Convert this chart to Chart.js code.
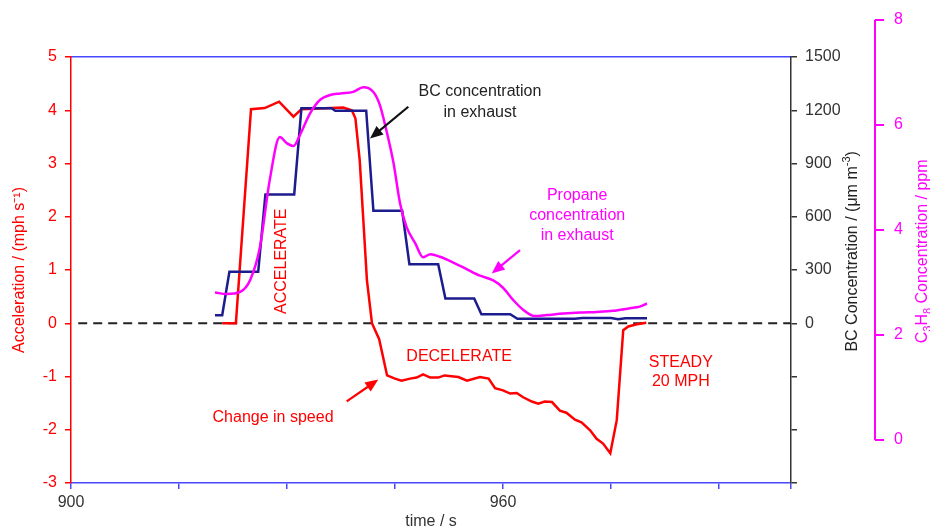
<!DOCTYPE html>
<html>
<head>
<meta charset="utf-8">
<script src="https://cdn.jsdelivr.net/npm/chart.js@4.4.1/dist/chart.umd.min.js"></script>
<style>
html,body{margin:0;padding:0;background:#ffffff;}
canvas{display:block;}
</style>
</head>
<body>
<canvas id="c" width="930" height="531"></canvas>
<script>
// ---------- data ----------
const timeLabelled = [900, 960];

const accelTime = [921, 922.9, 925.0, 926.9, 928.9, 930.9, 932.0, 937.8, 939.0, 939.5, 940.1, 940.6, 941.1, 941.8, 942.8, 943.9,
  945.0, 945.9, 947.1, 948.0, 948.9, 949.9, 951.0, 951.9, 953.8, 955.0, 956.8, 958.0, 958.9, 960.0, 961.0, 961.9, 962.8,
  964.0, 964.9, 965.8, 966.8, 967.9, 968.8, 970.0, 970.9, 972.1, 973.0, 973.9, 974.9, 975.8, 976.7, 977.4, 978.6, 979.9];
const accelValues = [0, 0, 4.02, 4.04, 4.16, 3.88, 4.02, 4.05, 4.0, 3.85, 3.06, 1.94, 0.81, 0, -0.3, -0.98,
  -1.04, -1.08, -1.04, -1.02, -0.96, -1.02, -1.02, -0.98, -1.01, -1.08, -1.01, -1.04, -1.22, -1.26, -1.32, -1.31, -1.39,
  -1.47, -1.51, -1.47, -1.48, -1.64, -1.68, -1.81, -1.86, -2.01, -2.17, -2.26, -2.44, -1.82, -0.13, -0.06, -0.02, 0.01];

const bcTime = [920, 921, 922, 926, 927, 931, 932, 936.2, 936.7, 941, 942, 946, 947, 951, 952, 956, 957, 961, 962,
  970, 971, 975, 976, 977, 980];
const bcValues = [45, 45, 290, 290, 726, 726, 1211, 1211, 1197, 1197, 634, 634, 333, 333, 139, 139, 51, 51, 25,
  25, 30, 30, 22, 28, 28];

const propaneTime = [920.0, 921.6, 923.5, 924.9, 926.25, 927.6, 929.0, 930.0, 930.9, 931.8, 933.2, 934.6, 936.0, 937.4,
  939.2, 940.6, 942.0, 942.9, 943.8, 944.8, 945.7, 946.6, 947.8, 948.9, 949.9, 951.25, 953.1, 955.0, 956.8, 958.65,
  960.0, 961.4, 962.8, 964.4, 966.1, 968.4, 970.7, 973.0, 975.3, 977.6, 979.0, 980.0];
const propaneValues = [2.81, 2.78, 2.82, 3.05, 3.68, 4.95, 5.77, 5.65, 5.6, 5.81, 6.22, 6.48, 6.57, 6.6,
  6.63, 6.72, 6.63, 6.38, 5.9, 5.27, 4.51, 4.06, 3.75, 3.48, 3.54, 3.49, 3.38, 3.25, 3.13, 3.04,
  2.9, 2.67, 2.48, 2.36, 2.38, 2.41, 2.43, 2.44, 2.46, 2.51, 2.54, 2.6];

const zeroTime = [901, 1000];
const zeroValues = [0, 0];

const propaneTicks = [0, 2, 4, 6, 8];

// ---------- styles ----------
const FONT = '"Liberation Sans", Arial, Helvetica, sans-serif';
const RED = '#ff0000';
const MAG = '#ff00ff';
const NAVY = '#1c1c8e';
const FRAME = '#4848ff';
const DARK = '#333333';

Chart.defaults.font.family = FONT;
Chart.defaults.font.size = 16;

const pts = (xs, ys) => xs.map((x, i) => ({x: x, y: ys[i]}));

// annotation positions in data units (time, acceleration)
const notes = [
  {lines: ['BC concentration', 'in exhaust'], t: 956.8, a: 4.154, color: '#222222', gap: 20.6},
  {lines: ['Propane', 'concentration', 'in exhaust'], t: 970.3, a: 2.02, color: MAG, gap: 20},
  {lines: ['DECELERATE'], t: 953.9, a: -0.633, color: RED, gap: 20},
  {lines: ['Change in speed'], t: 928.06, a: -1.767, color: RED, gap: 20},
  {lines: ['STEADY', '20 MPH'], t: 984.7, a: -0.92, color: RED, gap: 18.5},
  {lines: ['ACCELERATE'], t: 929.3, a: 1.165, color: RED, gap: 20, rotate: true}
];
const arrows = [
  {t1: 946.85, a1: 4.066, t2: 941.53, a2: 3.47, color: '#111111'},
  {t1: 962.36, a1: 1.372, t2: 958.43, a2: 0.934, color: MAG},
  {t1: 938.29, a1: -1.466, t2: 942.68, a2: -1.058, color: RED}
];

function drawRich(ctx, pieces, cx, cy, color) {
  ctx.save();
  ctx.translate(cx, cy);
  ctx.rotate(-Math.PI / 2);
  ctx.fillStyle = color;
  ctx.textBaseline = 'middle';
  ctx.textAlign = 'left';
  let w = 0;
  pieces.forEach(p => { ctx.font = p.s + 'px ' + FONT; p.w = ctx.measureText(p.t).width; w += p.w; });
  let x = -w / 2;
  pieces.forEach(p => { ctx.font = p.s + 'px ' + FONT; ctx.fillText(p.t, x, p.dy || 0); x += p.w; });
  ctx.restore();
}

function drawArrow(ctx, x1, y1, x2, y2, color) {
  const ang = Math.atan2(y2 - y1, x2 - x1);
  const L = 13, H = 5.5;
  ctx.save();
  ctx.strokeStyle = color; ctx.fillStyle = color; ctx.lineWidth = 2.2;
  ctx.beginPath();
  ctx.moveTo(x1, y1);
  ctx.lineTo(x2 - Math.cos(ang) * L * 0.8, y2 - Math.sin(ang) * L * 0.8);
  ctx.stroke();
  ctx.beginPath();
  ctx.moveTo(x2, y2);
  ctx.lineTo(x2 - Math.cos(ang) * L - Math.sin(ang) * H, y2 - Math.sin(ang) * L + Math.cos(ang) * H);
  ctx.lineTo(x2 - Math.cos(ang) * L + Math.sin(ang) * H, y2 - Math.sin(ang) * L - Math.cos(ang) * H);
  ctx.closePath();
  ctx.fill();
  ctx.restore();
}

const overlay = {
  id: 'overlay',
  afterDraw(chart) {
    const {ctx, chartArea: ca, scales} = chart;
    const X = v => scales.x.getPixelForValue(v);
    const Y = v => scales.y.getPixelForValue(v);
    const P = v => scales.yP.getPixelForValue(v);
    ctx.save();

    // propane axis (its own extent 0..8)
    const ax = ca.right + 84;
    ctx.strokeStyle = MAG; ctx.lineWidth = 2;
    ctx.beginPath(); ctx.moveTo(ax, P(0)); ctx.lineTo(ax, P(8)); ctx.stroke();
    ctx.font = '16px ' + FONT; ctx.fillStyle = MAG; ctx.textAlign = 'left'; ctx.textBaseline = 'middle';
    propaneTicks.forEach(v => {
      const py = P(v);
      ctx.beginPath(); ctx.moveTo(ax, py); ctx.lineTo(ax + 9, py); ctx.stroke();
      ctx.fillText(String(v), ax + 19, py);
    });

    // right axis titles
    const ty = Y(1.35);
    drawRich(ctx, [{t: 'BC Concentration / (\u03bcm m', s: 16}, {t: '-3', s: 11, dy: -6}, {t: ')', s: 16}], ca.right + 62, ty, '#222222');
    drawRich(ctx, [{t: 'C', s: 16}, {t: '3', s: 11, dy: 5}, {t: 'H', s: 16}, {t: '8', s: 11, dy: 5}, {t: ' Concentration / ppm', s: 16}], ca.right + 132, ty, MAG);

    // annotations
    ctx.font = '16px ' + FONT; ctx.textAlign = 'center'; ctx.textBaseline = 'middle';
    notes.forEach(n => {
      const cx = X(n.t), cy = Y(n.a);
      ctx.fillStyle = n.color;
      if (n.rotate) {
        ctx.save(); ctx.translate(cx, cy); ctx.rotate(-Math.PI / 2);
        ctx.fillText(n.lines[0], 0, 0); ctx.restore();
      } else {
        const y0 = cy - (n.lines.length - 1) * n.gap / 2;
        n.lines.forEach((l, i) => ctx.fillText(l, cx, y0 + i * n.gap));
      }
    });
    arrows.forEach(a => drawArrow(ctx, X(a.t1), Y(a.a1), X(a.t2), Y(a.a2), a.color));
    ctx.restore();
  }
};

new Chart(document.getElementById('c').getContext('2d'), {
  type: 'line',
  data: {
    datasets: [
      {label: 'Propane', data: pts(propaneTime, propaneValues), yAxisID: 'yP', borderColor: MAG, borderWidth: 2.5,
        pointRadius: 0, cubicInterpolationMode: 'monotone', order: 1},
      {label: 'BC', data: pts(bcTime, bcValues), yAxisID: 'yBC', borderColor: NAVY, borderWidth: 2.5, pointRadius: 0, tension: 0, order: 2},
      {label: 'Acceleration', data: pts(accelTime, accelValues), yAxisID: 'y', borderColor: RED, borderWidth: 2.5, pointRadius: 0, tension: 0, order: 3},
      {label: 'zero', data: pts(zeroTime, zeroValues), yAxisID: 'y', borderColor: '#222222', borderWidth: 2.2, borderDash: [9, 6],
        pointRadius: 0, order: 4}
    ]
  },
  options: {
    responsive: false,
    animation: false,
    layout: {padding: {top: 57, left: 0, right: 0, bottom: 0}},
    plugins: {legend: {display: false}, tooltip: {enabled: false}},
    scales: {
      x: {
        type: 'linear', position: 'bottom', min: 900, max: 1000,
        afterFit(s) { s.height = 48; },
        ticks: {stepSize: 15, autoSkip: false, maxRotation: 0, color: DARK, padding: 4,
          callback: v => timeLabelled.includes(v) ? String(v) : ''},
        grid: {drawOnChartArea: false, drawTicks: true, tickLength: 6, color: FRAME, lineWidth: 1.5},
        border: {color: FRAME, width: 1.5},
        title: {display: true, text: 'time / s', color: DARK, padding: {top: 0, bottom: 0}}
      },
      xTop: {
        type: 'linear', position: 'top', min: 900, max: 1000,
        ticks: {display: false},
        grid: {display: false, drawTicks: false},
        border: {color: FRAME, width: 1.5}
      },
      y: {
        type: 'linear', position: 'left', min: -3, max: 5,
        afterFit(s) { s.width = 71; },
        ticks: {stepSize: 1, color: RED, padding: 8},
        grid: {drawOnChartArea: false, tickLength: 6, color: RED, lineWidth: 1.5},
        border: {color: RED, width: 1.5},
        title: {display: true, text: 'Acceleration / (mph s\u207b\u00b9)', color: RED, padding: {top: 10, bottom: 0}}
      },
      yBC: {
        type: 'linear', position: 'right', min: -900, max: 1500,
        afterFit(s) { s.width = 139; },
        ticks: {stepSize: 300, color: DARK, padding: 8, callback: v => v >= 0 ? String(v) : ''},
        grid: {drawOnChartArea: false, tickLength: 6, color: DARK, lineWidth: 1.5},
        border: {color: DARK, width: 1.5}
      },
      yP: {type: 'linear', display: false, min: -0.819, max: 7.295}
    }
  },
  plugins: [overlay]
});
</script>
</body>
</html>
